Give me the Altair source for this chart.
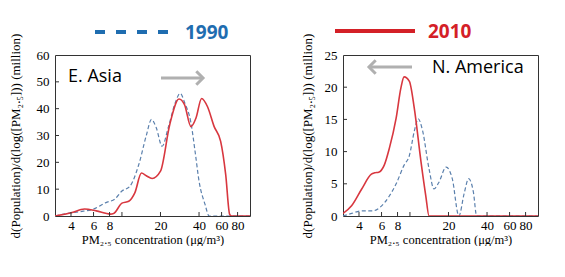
import altair as alt
import pandas as pd

# ---------------- data ----------------
ea_1990_x = [3.0, 4.0, 5.0, 6.0, 7.5, 8.8, 10.0, 11.5, 13.5, 15.5, 17.0, 18.5, 20.6, 23.0, 26.0, 28.5, 31.0, 34.5, 37.5, 40.0, 44.5, 48.0, 60.0, 100.0]
ea_1990_y = [0.0, 1.2, 1.8, 2.6, 5.0, 6.3, 9.3, 11.0, 19.0, 30.0, 36.0, 33.0, 26.0, 33.0, 42.0, 45.7, 42.0, 35.0, 23.0, 13.0, 4.4, 0.0, 0.0, 0.0]

ea_2010_x = [3.0, 4.0, 5.1, 6.3, 8.1, 8.6, 10.0, 11.3, 12.6, 14.2, 15.5, 17.2, 20.0, 23.6, 27.9, 30.8, 34.6, 37.8, 41.9, 46.6, 52.5, 59.0, 64.6, 69.4, 72.0, 100.0]
ea_2010_y = [0.0, 1.2, 2.6, 1.9, 0.7, 0.9, 4.8, 5.5, 8.6, 16.0, 15.0, 14.0, 16.7, 34.0, 43.6, 41.5, 33.3, 36.4, 43.8, 40.7, 33.3, 27.8, 15.4, 0.6, 0.0, 0.0]

na_1990_x = [3.0, 3.5, 4.2, 5.1, 5.8, 6.9, 7.8, 9.0, 9.9, 10.8, 11.6, 12.5, 14.1, 15.4, 16.8, 19.2, 21.4, 24.1, 26.5, 28.7, 31.3, 33.2, 100.0]
na_1990_y = [0.0, 0.4, 0.8, 0.8, 1.3, 3.1, 5.0, 7.9, 9.4, 13.1, 15.1, 13.4, 7.3, 4.2, 5.2, 7.6, 5.8, 0.0, 3.5, 5.8, 3.7, 0.0, 0.0]

na_2010_x = [3.0, 3.5, 4.2, 5.0, 5.3, 5.7, 6.3, 6.9, 7.8, 8.5, 9.0, 9.9, 10.8, 12.2, 13.3, 14.1, 100.0]
na_2010_y = [0.4, 1.6, 4.2, 6.5, 6.7, 6.8, 7.9, 10.5, 15.2, 19.9, 21.6, 20.9, 16.8, 8.4, 3.1, 0.0, 0.0]

x_tick_values = [4, 6, 8, 10, 20, 40, 60, 80]
x_label_values = [4, 6, 8, 20, 40, 60, 80]
ea_y_ticks = [0, 10, 20, 30, 40, 50, 60]
na_y_ticks = [0, 5, 10, 15, 20, 25]

# ---------------- styling ----------------
W, H = 195, 161
BLUE_LINE = "#5b80ad"
RED_LINE = "#d8373f"
BLUE_TXT = "#1f6db0"
RED_TXT = "#d42027"
SERIF = "Liberation Serif"
SANS = "Open Sans"

X_TITLE = "PM\u2082.\u2085 concentration (\u03bcg/m\u00b3)"
Y_TITLE = "d(Population)/d(log([PM\u2082.\u2085])) (million)"

one = pd.DataFrame({"k": [0]})


def series_df(xs, ys, name):
    return pd.DataFrame({"pm": xs, "pop": ys, "year": name})


def panel(d1990, d2010, ymax, yticks, ytitle_pad, region, region_x, region_y,
          arrow_x1, arrow_x2, arrow_y, head_right,
          legend_is_dashed):
    xscale = alt.Scale(type="log", domain=[3, 100], nice=False)
    yscale = alt.Scale(domain=[0, ymax], nice=False)
    xaxis = alt.Axis(values=x_label_values, title=X_TITLE, grid=False, domain=False,
                     ticks=False, labelPadding=3, titlePadding=1, labelFlush=False,
                     labelOverlap=False, labelExpr="format(datum.value, 'd')",
                     titleFontSize=12.5)
    yaxis = alt.Axis(values=yticks, title=Y_TITLE, grid=False, domain=False,
                     ticks=False, labelPadding=6, titlePadding=ytitle_pad, labelOverlap=False,
                     titleFontSize=13)
    X = lambda f: alt.X(f, scale=xscale, axis=xaxis)
    Y = lambda f: alt.Y(f, scale=yscale, axis=yaxis)

    blue = alt.Chart(d1990).mark_line(
        color=BLUE_LINE, strokeDash=[4, 2.5], strokeWidth=1.2, interpolate="monotone", clip=True
    ).encode(x=X("pm:Q"), y=Y("pop:Q"))
    red = alt.Chart(d2010).mark_line(
        color=RED_LINE, strokeWidth=1.6, interpolate="monotone", clip=True
    ).encode(x=X("pm:Q"), y=Y("pop:Q"))

    xt = alt.Chart(pd.DataFrame({"t": x_tick_values})).mark_rule(color="#333", strokeWidth=1).encode(
        x=X("t:Q"), y=alt.value(H), y2=alt.value(H - 4))
    yt = alt.Chart(pd.DataFrame({"t": yticks[1:-1]})).mark_rule(color="#333", strokeWidth=1).encode(
        y=Y("t:Q"), x=alt.value(0), x2=alt.value(4))

    region_txt = alt.Chart(one).mark_text(
        text=region, font=SANS, fontSize=18, align="left", baseline="alphabetic", color="black"
    ).encode(x=alt.value(region_x), y=alt.value(region_y))

    shaft = alt.Chart(one).mark_rule(color="#b0b0b0", strokeWidth=3).encode(
        x=alt.value(arrow_x1), x2=alt.value(arrow_x2), y=alt.value(arrow_y))
    tip = arrow_x2 if head_right else arrow_x1
    head_path = "M-1,-1L0,0L-1,1" if head_right else "M1,-1L0,0L1,1"
    head = alt.Chart(one).mark_point(
        shape=head_path, filled=False, color="#b0b0b0", strokeWidth=3, size=180, opacity=1
    ).encode(x=alt.value(tip), y=alt.value(arrow_y))

    if legend_is_dashed:
        key = alt.Chart(one).mark_rule(color=BLUE_TXT, strokeWidth=4, strokeDash=[10, 11], strokeCap="butt").encode(
            x=alt.value(40), x2=alt.value(114), y=alt.value(-23))
        key_txt = alt.Chart(one).mark_text(
            text="1990", font=SANS, fontSize=19, fontWeight="bold", color=BLUE_TXT,
            align="left", baseline="alphabetic").encode(x=alt.value(130), y=alt.value(-16))
    else:
        key = alt.Chart(one).mark_rule(color=RED_TXT, strokeWidth=4).encode(
            x=alt.value(-8), x2=alt.value(72), y=alt.value(-24))
        key_txt = alt.Chart(one).mark_text(
            text="2010", font=SANS, fontSize=19, fontWeight="bold", color=RED_TXT,
            align="left", baseline="alphabetic").encode(x=alt.value(85), y=alt.value(-17))

    return alt.layer(blue, red, xt, yt, region_txt, shaft, head, key, key_txt).properties(
        width=W, height=H)


left = panel(series_df(ea_1990_x, ea_1990_y, "1990"), series_df(ea_2010_x, ea_2010_y, "2010"),
             60, ea_y_ticks, 14, "E. Asia", 13, 27, 106, 148, 23, True, True)
right = panel(series_df(na_1990_x, na_1990_y, "1990"), series_df(na_2010_x, na_2010_y, "2010"),
              25, na_y_ticks, 10, "N. America", 89, 18, 26, 69, 12, False, False)

chart = alt.hconcat(left, right, spacing=49).properties(
    padding={"left": 0, "top": 14, "right": 0, "bottom": 0},
    background="white",
).configure_view(stroke="#333", strokeWidth=1).configure_axis(
    labelFont=SERIF, labelFontSize=13, labelColor="black",
    titleFont=SERIF, titleFontWeight="normal", titleColor="black"
)

chart.save("out.html", embed_options={"renderer": "svg", "actions": False})
